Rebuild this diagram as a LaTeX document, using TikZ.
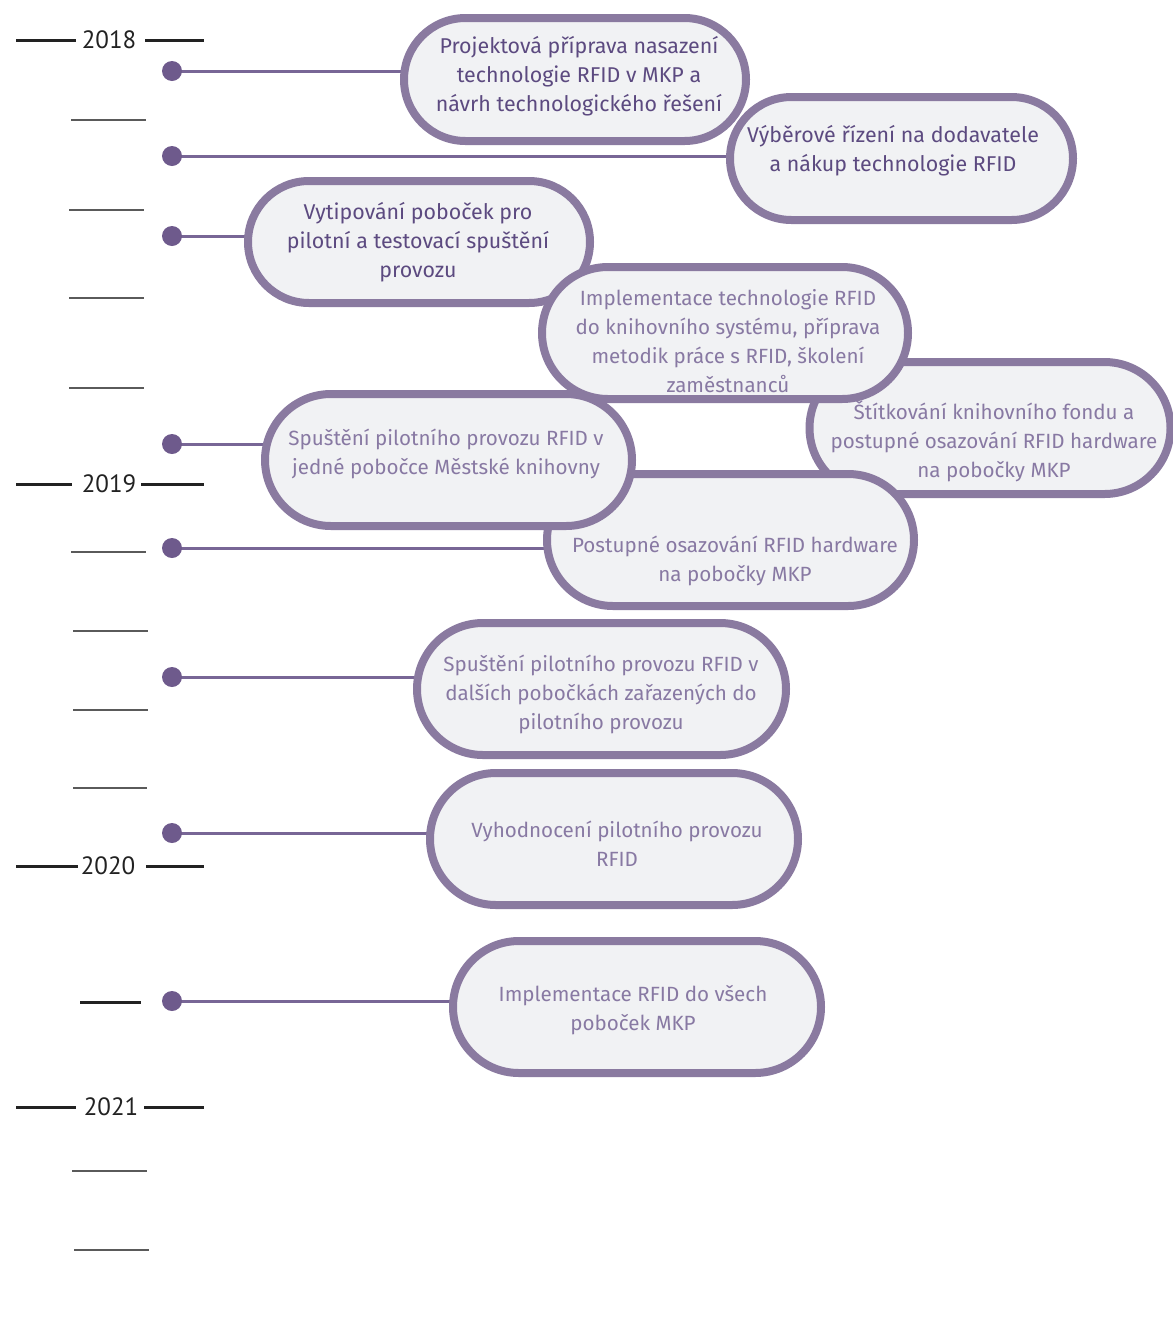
\documentclass[tikz,border=0pt]{standalone}
\usepackage{fontspec}
\setmainfont{Fira Sans}
\newfontfamily\lightfont{Fira Sans}
\newfontfamily\yearfont{PT Sans}
\usetikzlibrary{shapes.misc}
\pgfdeclarelayer{bg}
\pgfsetlayers{bg,main}
\definecolor{pborder}{RGB}{138,122,160}
\definecolor{pfill}{RGB}{241,242,244}
\definecolor{ptxtdark}{RGB}{92,74,128}
\definecolor{ptxtlight}{RGB}{136,121,163}
\definecolor{pdot}{RGB}{110,90,140}
\definecolor{pline}{RGB}{120,102,150}
\definecolor{ink}{RGB}{34,34,34}
\definecolor{tickgray}{RGB}{90,90,90}
\begin{document}
\begin{tikzpicture}[x=1pt,y=-1pt,
  pill/.style={rounded rectangle, draw=pborder, fill=pfill, line width=8pt, inner sep=0pt},
  ptext/.style={align=center, font=\fontsize{21.4}{29}\selectfont, text=ptxtdark, inner sep=0pt},
  ptextl/.style={align=center, font=\fontsize{20.6}{29}\selectfont\lightfont, text=ptxtlight, inner sep=0pt},
  dot/.style={circle, fill=pdot, minimum size=20pt, inner sep=0pt},
  conn/.style={draw=pline, line width=3pt},
  year/.style={font=\fontsize{25}{30}\selectfont\yearfont, text=ink, inner sep=0pt},
  major/.style={draw=ink, line width=3pt},
  minor/.style={draw=tickgray, line width=1.5pt}]
\useasboundingbox (0,0) rectangle (1173,1326);

% ---- year axis ----
\node[year] (y2018) at (109,40) {2018};
\draw[major] (16,40) -- (76,40);
\draw[major] (145,40) -- (204,40);
\node[year] (y2019) at (109,484) {2019};
\draw[major] (16,484) -- (72,484);
\draw[major] (141,484) -- (204,484);
\node[year] (y2020) at (108,866) {2020};
\draw[major] (16,866) -- (78,866);
\draw[major] (146,866) -- (204,866);
\draw[major] (80,1002) -- (141,1002);
\node[year] (y2021) at (111,1107) {2021};
\draw[major] (16,1107) -- (76,1107);
\draw[major] (144,1107) -- (204,1107);
\foreach \ya/\xa/\xb in {120/71/146, 210/69/144, 298/69/144, 388/69/144, 552/71/146, 631/73/148, 710/73/148, 788/73/147, 1171/72/147, 1250/74/149}
  \draw[minor] (\xa,\ya) -- (\xb,\ya);

% ---- boxes ----
\node[pill, minimum width=342pt, minimum height=123pt] (b1) at (575,79.5) {};
\node[ptext] (t1) at (579,76) {Projektová příprava nasazení\\technologie RFID v MKP a\\návrh technologického řešení};

\node[pill, minimum width=343pt, minimum height=123pt] (b2) at (901.5,158.5) {};
\node[ptext] (t2) at (893,150.5) {Výběrové řízení na dodavatele\\a nákup technologie RFID};

\node[pill, minimum width=342pt, minimum height=122pt] (b3) at (419,242) {};
\node[ptext] (t3) at (418,242.5) {Vytipování poboček pro\\pilotní a testovací spuštění\\provozu};

\node[pill, minimum width=361pt, minimum height=132pt] (b5) at (990,428) {};
\node[ptextl] (t5) at (994,441.5) {Štítkování knihovního fondu a\\postupné osazování RFID hardware\\na pobočky MKP};

\node[pill, minimum width=367pt, minimum height=132pt] (b7) at (730.5,540) {};
\node[ptextl] (t7) at (735,560.5) {Postupné osazování RFID hardware\\na pobočky MKP};

\node[pill, minimum width=367pt, minimum height=132pt] (b6) at (448.5,460) {};
\node[ptextl] (t6) at (446,454) {Spuštění pilotního provozu RFID v\\jedné pobočce Městské knihovny};

\node[pill, minimum width=366pt, minimum height=132pt] (b4) at (725,333) {};
\node[ptextl] (t4) at (728,341) {Implementace technologie RFID\\do knihovního systému, příprava\\metodik práce s RFID, školení\\zaměstnanců};

\node[pill, minimum width=369pt, minimum height=132pt] (b8) at (601.5,689) {};
\node[ptextl] (t8) at (601,694.5) {Spuštění pilotního provozu RFID v\\dalších pobočkách zařazených do\\pilotního provozu};

\node[pill, minimum width=368pt, minimum height=132pt] (b9) at (614,839) {};
\node[ptextl] (t9) at (617,844) {Vyhodnocení pilotního provozu\\RFID};

\node[pill, minimum width=368pt, minimum height=132pt] (b10) at (637,1007) {};
\node[ptextl] (t10) at (633,1010.5) {Implementace RFID do všech\\poboček MKP};

% ---- dots and connectors ----
\foreach \n/\yy in {1/71, 2/156, 3/236, 6/444, 7/548, 8/677, 9/833, 10/1001}
  \node[dot] (d\n) at (172,\yy) {};
\begin{pgfonlayer}{bg}
\foreach \n in {1,2,3,6,7,8,9,10}
  \draw[conn] (d\n.center) -- (d\n -| b\n.center);
\end{pgfonlayer}
\end{tikzpicture}
\end{document}
